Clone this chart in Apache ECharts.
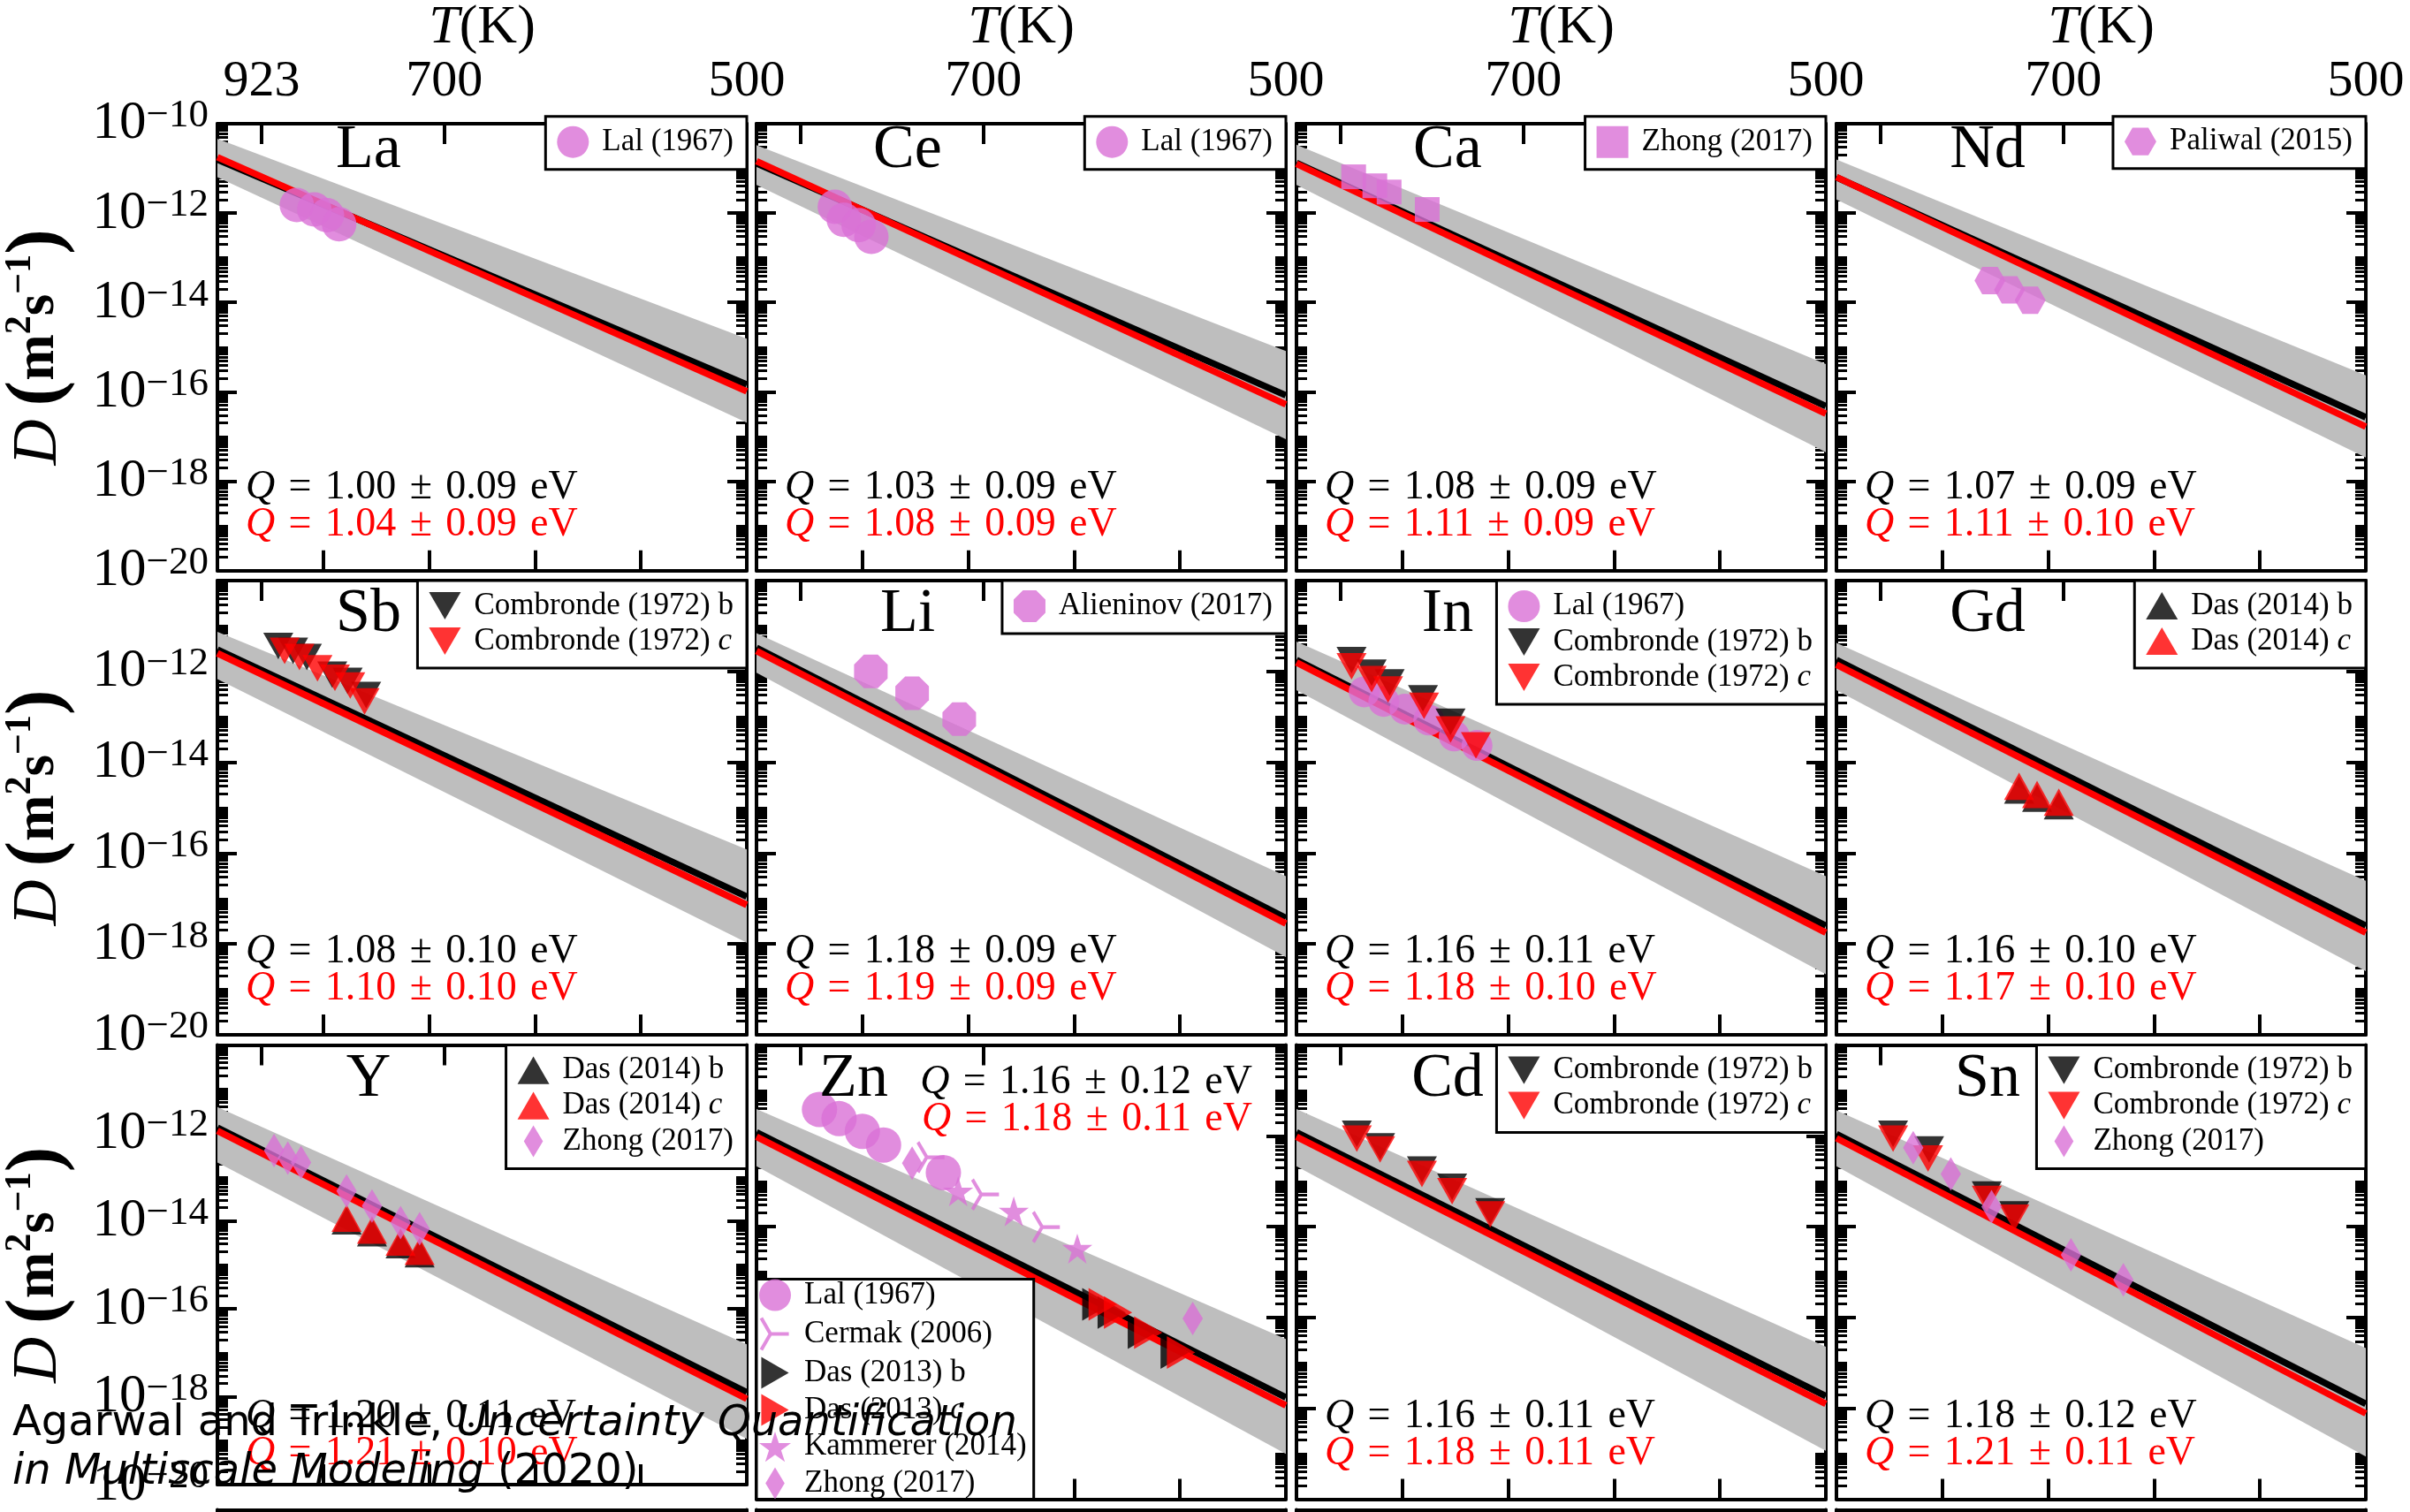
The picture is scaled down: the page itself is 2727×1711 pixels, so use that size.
<!DOCTYPE html>
<html><head><meta charset="utf-8">
<script src="https://cdn.jsdelivr.net/npm/echarts@6/dist/echarts.min.js"></script>
<style>html,body{margin:0;padding:0;background:#fff}#c{width:2727px;height:1711px}</style>
</head><body><div id="c"></div><script>
// ---------------- data ----------------
const elements = ['La','Ce','Ca','Nd','Sb','Li','In','Gd','Y','Zn','Cd','Sn'];
const qBlack = ['1.00 ± 0.09','1.03 ± 0.09','1.08 ± 0.09','1.07 ± 0.09','1.08 ± 0.10','1.18 ± 0.09','1.16 ± 0.11','1.16 ± 0.10','1.20 ± 0.11','1.16 ± 0.12','1.16 ± 0.11','1.18 ± 0.12'];
const qRed   = ['1.04 ± 0.09','1.08 ± 0.09','1.11 ± 0.09','1.11 ± 0.10','1.10 ± 0.10','1.19 ± 0.09','1.18 ± 0.10','1.17 ± 0.10','1.21 ± 0.10','1.18 ± 0.11','1.18 ± 0.11','1.21 ± 0.11'];
const topTemps = [923, 700, 500];          // top axis tick labels, T (K)
const xEnds = [1.0, 2.0];                   // 1000/T at the panel edges
// line end values D(m^2/s) at xEnds
const blackLine = [[1.58e-11,1.45e-16],[1.29e-11,8.32e-17],[1.32e-11,4.79e-17],[6.31e-12,2.69e-17],
                   [3.02e-12,1.10e-17],[3.31e-12,3.72e-18],[1.78e-12,2.51e-18],[1.78e-12,2.51e-18],
                   [1.32e-12,1.26e-18],[1.20e-12,1.74e-18],[1.20e-12,1.86e-18],[1.10e-12,1.26e-18]];
const redLine   = [[1.78e-11,1.02e-16],[1.45e-11,5.25e-17],[1.26e-11,3.24e-17],[6.40e-12,1.66e-17],
                   [2.51e-12,7.24e-18],[2.82e-12,2.82e-18],[1.58e-12,1.78e-18],[1.41e-12,1.78e-18],
                   [1.12e-12,8.91e-19],[9.55e-13,1.17e-18],[9.55e-13,1.26e-18],[8.91e-13,7.76e-19]];
const bandUpper = [[4.57e-11,1.55e-15],[3.31e-11,8.13e-16],[3.39e-11,4.17e-16],[1.58e-11,2.34e-16],
                   [7.41e-12,1.20e-16],[6.92e-12,3.09e-17],[4.57e-12,3.09e-17],[4.27e-12,2.45e-17],
                   [3.89e-12,1.55e-17],[3.89e-12,3.39e-17],[3.89e-12,2.29e-17],[3.63e-12,2.14e-17]];
const bandLower = [[6.31e-12,2.04e-17],[4.27e-12,8.71e-18],[4.27e-12,4.47e-18],[2.00e-12,3.39e-18],
                   [6.76e-13,1.07e-18],[9.33e-13,5.13e-19],[3.89e-13,2.14e-19],[3.89e-13,2.51e-19],
                   [2.14e-13,1.10e-19],[2.14e-13,1.00e-19],[2.14e-13,1.17e-19],[2.14e-13,8.71e-20]];
// experimental points [1000/T, D]
const laLal = [[1.150,1.51e-12],[1.183,1.20e-12],[1.207,8.91e-13],[1.230,5.62e-13]];
const ceLal = [[1.148,1.38e-12],[1.165,7.08e-13],[1.193,5.37e-13],[1.217,2.95e-13]];
const caZhong = [[1.108,6.46e-12],[1.148,4.07e-12],[1.175,2.95e-12],[1.247,1.20e-12]];
const ndPaliwal = [[1.290,3.09e-14],[1.327,1.91e-14],[1.366,1.12e-14]];
const sbCombB = [[1.115,3.63e-12],[1.143,2.85e-12],[1.169,2.07e-12],[1.217,8.51e-13],[1.246,6.17e-13],[1.281,3.02e-13]];
const sbCombC = [[1.127,2.85e-12],[1.155,2.07e-12],[1.189,1.17e-12],[1.222,7.24e-13],[1.251,4.90e-13],[1.278,2.19e-13]];
const liAlieninov = [[1.216,1.00e-12],[1.294,3.31e-13],[1.383,8.91e-14]];
const inLal = [[1.128,3.55e-13],[1.165,2.19e-13],[1.205,1.48e-13],[1.250,8.51e-14],[1.298,3.80e-14],[1.341,2.34e-14]];
const inCombB = [[1.104,1.78e-12],[1.142,9.33e-13],[1.176,5.75e-13],[1.239,2.57e-13],[1.291,7.76e-14]];
const inCombC = [[1.104,1.29e-12],[1.142,6.76e-13],[1.173,3.98e-13],[1.241,1.74e-13],[1.291,5.25e-14],[1.339,2.34e-14]];
const gdDasB = [[1.345,2.45e-15],[1.379,1.62e-15],[1.420,1.10e-15]];
const gdDasC = [[1.345,2.95e-15],[1.379,1.95e-15],[1.420,1.32e-15]];
const yDasB = [[1.244,1.00e-14],[1.292,5.37e-15],[1.346,2.88e-15],[1.382,1.78e-15]];
const yDasC = [[1.244,1.15e-14],[1.292,6.17e-15],[1.346,3.31e-15],[1.382,2.04e-15]];
const yZhong = [[1.107,3.98e-13],[1.133,2.69e-13],[1.158,2.14e-13],[1.244,4.79e-14],[1.292,2.19e-14],[1.346,9.12e-15],[1.382,6.61e-15]];
const znLal = [[1.119,3.80e-12],[1.156,2.40e-12],[1.200,1.26e-12],[1.240,6.31e-13],[1.353,1.55e-13]];
const znCermak = [[1.330,3.39e-13],[1.433,5.13e-14],[1.548,9.86e-15]];
const znDasB = [[1.642,1.95e-16],[1.671,1.30e-16],[1.728,4.68e-17],[1.790,1.70e-17]];
const znDasC = [[1.654,1.95e-16],[1.683,1.30e-16],[1.740,4.68e-17],[1.802,1.70e-17]];
const znKammerer = [[1.381,6.03e-14],[1.486,2.19e-14],[1.606,3.31e-15]];
const znZhong = [[1.294,2.51e-13],[1.824,9.55e-17]];
const cdCombB = [[1.114,1.11e-12],[1.158,5.89e-13],[1.237,1.82e-13],[1.294,7.59e-14],[1.366,2.19e-14]];
const cdCombC = [[1.114,8.71e-13],[1.158,5.01e-13],[1.237,1.45e-13],[1.294,6.03e-14],[1.366,1.86e-14]];
const snCombB = [[1.107,1.11e-12],[1.175,5.01e-13],[1.284,5.13e-14],[1.336,1.86e-14]];
const snCombC = [[1.107,8.71e-13],[1.173,3.16e-13],[1.284,4.07e-14],[1.336,1.58e-14]];
const snZhong = [[1.145,5.50e-13],[1.216,1.45e-13],[1.293,2.75e-14],[1.443,2.40e-15],[1.542,6.76e-16]];

// ---------------- styling / layout ----------------
const W = 2727, H = 1711;
const colLeft = [246, 856, 1467, 2078];
const rowTop = [131.7, 657, 1182.6, 1708.4];
const PW = 599, PH = 514;
const PINK = '#da70d6', RED = '#ff0000', BLACK = '#000000', GRAY = '#bebebe';
const SERIF = '"Liberation Serif","Times New Roman",serif';
const SANS = '"DejaVu Sans",sans-serif';
const SYM = {
  circle: 'circle', square: 'rect',
  triDown: 'path://M0,0L2,0L1,1.732Z',
  triUp: 'path://M1,0L2,1.732L0,1.732Z',
  triRight: 'path://M0,0L1.732,1L0,2Z',
  hexagon: 'path://M0.5,0L1.5,0L2,0.866L1.5,1.732L0.5,1.732L0,0.866Z',
  octagon: 'path://M0.293,0L0.707,0L1,0.293L1,0.707L0.707,1L0.293,1L0,0.707L0,0.293Z',
  diamond: 'path://M0.3,0L0.6,0.5L0.3,1L0,0.5Z',
  star: 'path://M1,0L1.2245,0.691L1.951,0.691L1.363,1.118L1.588,1.809L1,1.382L0.412,1.809L0.637,1.118L0.049,0.691L0.7755,0.691Z',
  tri: 'path://M1,1L2,1M1,1L0.5,0.134M1,1L0.5,1.866'
};
const markers = [
  {p:0, name:'Lal (1967)', sym:'circle', size:39, color:PINK, data:laLal},
  {p:1, name:'Lal (1967)', sym:'circle', size:39, color:PINK, data:ceLal},
  {p:2, name:'Zhong (2017)', sym:'square', size:28, color:PINK, data:caZhong},
  {p:3, name:'Paliwal (2015)', sym:'hexagon', size:[35,31], color:PINK, data:ndPaliwal},
  {p:4, name:'Combronde (1972) b', sym:'triDown', size:[34,30], color:BLACK, data:sbCombB},
  {p:4, name:'Combronde (1972) c', sym:'triDown', size:[34,30], color:RED, data:sbCombC},
  {p:5, name:'Alieninov (2017)', sym:'octagon', size:38, color:PINK, data:liAlieninov},
  {p:6, name:'Lal (1967)', sym:'circle', size:35, color:PINK, data:inLal},
  {p:6, name:'Combronde (1972) b', sym:'triDown', size:[34,30], color:BLACK, data:inCombB},
  {p:6, name:'Combronde (1972) c', sym:'triDown', size:[34,30], color:RED, data:inCombC},
  {p:7, name:'Das (2014) b', sym:'triUp', size:[34,31], color:BLACK, data:gdDasB},
  {p:7, name:'Das (2014) c', sym:'triUp', size:[34,31], color:RED, data:gdDasC},
  {p:8, name:'Das (2014) b', sym:'triUp', size:[34,31], color:BLACK, data:yDasB},
  {p:8, name:'Das (2014) c', sym:'triUp', size:[34,31], color:RED, data:yDasC},
  {p:8, name:'Zhong (2017)', sym:'diamond', size:[23,38], color:PINK, data:yZhong},
  {p:9, name:'Lal (1967)', sym:'circle', size:40, color:PINK, data:znLal},
  {p:9, name:'Cermak (2006)', sym:'tri', size:[30,34], color:PINK, data:znCermak, stroke:true},
  {p:9, name:'Das (2013) b', sym:'triRight', size:[32,37], color:BLACK, data:znDasB},
  {p:9, name:'Das (2013) c', sym:'triRight', size:[32,37], color:RED, data:znDasC},
  {p:9, name:'Kammerer (2014)', sym:'star', size:34, color:PINK, data:znKammerer},
  {p:9, name:'Zhong (2017)', sym:'diamond', size:[23,38], color:PINK, data:znZhong},
  {p:10, name:'Combronde (1972) b', sym:'triDown', size:[34,30], color:BLACK, data:cdCombB},
  {p:10, name:'Combronde (1972) c', sym:'triDown', size:[34,30], color:RED, data:cdCombC},
  {p:11, name:'Combronde (1972) b', sym:'triDown', size:[34,30], color:BLACK, data:snCombB},
  {p:11, name:'Combronde (1972) c', sym:'triDown', size:[34,30], color:RED, data:snCombC},
  {p:11, name:'Zhong (2017)', sym:'diamond', size:[23,38], color:PINK, data:snZhong}
];

const yMajorTicks = [1e-20, 1e-18, 1e-16, 1e-14, 1e-12, 1e-10];
const yMinorTicks = [];
for (let e = -20; e < -10; e++) for (let k = 1; k < 10; k++) {
  if (k === 1 && e % 2 === 0) continue;
  yMinorTicks.push(k * Math.pow(10, e));
}
const topTickPos = topTemps.slice(0, 2).map(t => 1000 / t);

const option = { animation:false, backgroundColor:'#fff', grid:[], xAxis:[], yAxis:[], series:[], legend:[] };

function yLabelFmt(v) {
  const e = Math.round(Math.log10(v));
  return '{b|10}{s|\u2212' + (-e) + '}';
}
const yLabelRich = {
  b: {fontFamily:SERIF, fontSize:61, lineHeight:62, verticalAlign:'bottom', color:'#000'},
  s: {fontFamily:SERIF, fontSize:45, lineHeight:30, verticalAlign:'top', color:'#000'}
};

for (let p = 0; p < 16; p++) {
  const r = Math.floor(p / 4), c = p % 4;
  option.grid.push({left: colLeft[c], top: rowTop[r], width: PW, height: PH, show:false});
  // bottom x
  option.xAxis.push({type:'value', gridIndex:p, position:'bottom', min:1, max:2, interval:0.2,
    axisLine:{onZero:false, lineStyle:{color:'#000', width:4}},
    axisTick:{inside:true, length:23, lineStyle:{color:'#000', width:4}},
    axisLabel:{show:false}, splitLine:{show:false}});
  // top x (temperature)
  const topLabels = c === 0 ? topTemps : topTemps.slice(1);
  option.xAxis.push({type:'value', gridIndex:p, position:'top', min:1, max:2,
    axisLine:{onZero:false, lineStyle:{color:'#000', width:4}},
    axisTick:{inside:true, length:23, lineStyle:{color:'#000', width:4}, customValues: topTickPos},
    axisLabel:{show: r === 0, customValues: topLabels.map(t => 1000 / t), margin:18,
      formatter: v => String(Math.round(1000 / v)), fontFamily:SERIF, fontSize:58, color:'#000'},
    splitLine:{show:false},
    name: r === 0 ? '{i|T}(K)' : '', nameLocation:'middle', nameGap:64,
    nameTextStyle:{fontFamily:SERIF, fontSize:62, color:'#000',
      rich:{i:{fontFamily:SERIF, fontSize:62, fontStyle:'italic', color:'#000'}}}});
  const labelVals = r === 0 ? yMajorTicks : yMajorTicks.slice(0, 5);
  for (const side of ['left', 'right']) {
    option.yAxis.push({type:'log', logBase:10, gridIndex:p, position:side, min:1e-20, max:1e-10,
      axisLine:{onZero:false, lineStyle:{color:'#000', width:4}},
      axisTick:{inside:true, length:22, lineStyle:{color:'#000', width:4}, customValues: yMajorTicks},
      axisLabel:{show: side === 'left' && c === 0, customValues: labelVals, margin:10,
        formatter: yLabelFmt, rich: yLabelRich},
      splitLine:{show:false}, minorTick:{show:false},
      name: (side === 'left' && c === 0 && r < 3) ? '{d|D} {p|(}{m|m}{u|2}{m|s}{u|\u22121}{p|)}' : '',
      nameLocation:'middle', nameRotate:90, nameGap:160,
      nameTextStyle:{fontFamily:SERIF, fontSize:60, color:'#000', rich:{
        d:{fontFamily:SERIF, fontSize:72, fontStyle:'italic', lineHeight:84, color:'#000'},
        p:{fontFamily:SERIF, fontSize:86, fontWeight:'bold', lineHeight:84, color:'#000'},
        m:{fontFamily:SERIF, fontSize:63, fontWeight:'bold', lineHeight:84, color:'#000'},
        u:{fontFamily:SERIF, fontSize:42, fontWeight:'bold', lineHeight:44, verticalAlign:'top', color:'#000'}}}});
    option.yAxis.push({type:'log', logBase:10, gridIndex:p, position:side, min:1e-20, max:1e-10,
      axisLine:{show:false},
      axisTick:{inside:true, length:12, lineStyle:{color:'#000', width:3}, customValues: yMinorTicks},
      axisLabel:{show:false}, splitLine:{show:false}});
  }
  if (p >= 12) continue;
  const xi = 2 * p, yi = 4 * p;
  option.series.push({type:'custom', xAxisIndex:xi, yAxisIndex:yi, silent:true, z:1,
    data:[[xEnds[0], bandUpper[p][0], bandLower[p][0], xEnds[1], bandUpper[p][1], bandLower[p][1]]],
    encode:{x:[0,3], y:[1,2,4,5]},
    renderItem:(params, api) => {
      const a = api.coord([api.value(0), api.value(1)]);
      const b = api.coord([api.value(3), api.value(4)]);
      const cc = api.coord([api.value(3), api.value(5)]);
      const d = api.coord([api.value(0), api.value(2)]);
      return {type:'polygon', shape:{points:[a, b, cc, d]}, style:{fill:GRAY}};
    }});
  option.series.push({type:'line', xAxisIndex:xi, yAxisIndex:yi, silent:true, z:2, symbol:'none',
    data:[[xEnds[0], blackLine[p][0]], [xEnds[1], blackLine[p][1]]], lineStyle:{color:BLACK, width:7.5}});
  option.series.push({type:'line', xAxisIndex:xi, yAxisIndex:yi, silent:true, z:2, symbol:'none',
    data:[[xEnds[0], redLine[p][0]], [xEnds[1], redLine[p][1]]], lineStyle:{color:RED, width:7.5}});
}
for (const m of markers) {
  option.series.push({type:'scatter', name:m.name, xAxisIndex:2*m.p, yAxisIndex:4*m.p, z:3, silent:true,
    data:m.data, symbol:SYM[m.sym], symbolSize:m.size,
    itemStyle: m.stroke ? {color:'rgba(0,0,0,0)', borderColor:m.color, borderWidth:4} : {color:m.color}});
}

// legends
const legendNames = [
  ['Lal (1967)'], ['Lal (1967)'], ['Zhong (2017)'], ['Paliwal (2015)'],
  ['Combronde (1972) b','Combronde (1972) c'], ['Alieninov (2017)'],
  ['Lal (1967)','Combronde (1972) b','Combronde (1972) c'], ['Das (2014) b','Das (2014) c'],
  ['Das (2014) b','Das (2014) c','Zhong (2017)'],
  ['Lal (1967)','Cermak (2006)','Das (2013) b','Das (2013) c','Kammerer (2014)','Zhong (2017)'],
  ['Combronde (1972) b','Combronde (1972) c'], ['Combronde (1972) b','Combronde (1972) c','Zhong (2017)']
];
for (let p = 0; p < 12; p++) {
  const r = Math.floor(p / 4), c = p % 4;
  const isZn = elements[p] === 'Zn';
  const pos = isZn ? {left: colLeft[c], bottom: H - (rowTop[r] + PH), padding:[0, 8, 0, 3], itemGap:6}
                   : {right: W - (colLeft[c] + PW), top: rowTop[r], padding:[11, 15, 13, 13], itemGap:5};
  option.legend.push(Object.assign({
    selectedMode:false, orient:'vertical', itemWidth:36, itemHeight:36, z:10,
    backgroundColor:'#fff', borderColor:'#000', borderWidth:3, borderRadius:0,
    textStyle:{fontFamily:SERIF, fontSize:35, color:'#000', padding:[0,0,0,10],
      rich:{i:{fontFamily:SERIF, fontSize:35, fontStyle:'italic', color:'#000'}}},
    formatter: n => / c$/.test(n) ? n.slice(0, -1) + '{i|c}' : n,
    data: legendNames[p].map(n => {
      const m = markers.find(k => k.p === p && k.name === n);
      const item = {name:n, icon:SYM[m.sym]};
      if (m.stroke) item.itemStyle = {color:'rgba(0,0,0,0)', borderColor:m.color, borderWidth:4};
      else item.itemStyle = {color:m.color, borderWidth:0};
      return item;
    })
  }, pos));
}

// texts
const graphics = [];
const SP = '\u2004';
function qText(val, x, y, color, align) {
  return {type:'text', x, y, z:50, silent:true, style:{
    text:'{q|Q}' + SP + '=' + SP + val.replace(' ± ', SP + '±' + SP) + SP + 'eV',
    fontFamily:SERIF, fontSize:46, fill:color, align, verticalAlign:'middle',
    rich:{q:{fontFamily:SERIF, fontSize:46, fontStyle:'italic', fill:color}}}};
}
for (let p = 0; p < 12; p++) {
  const r = Math.floor(p / 4), c = p % 4;
  const L = colLeft[c], T = rowTop[r];
  const isZn = elements[p] === 'Zn';
  graphics.push({type:'text', x: L + (isZn ? 110 : 171), y: T + 39, z:50, silent:true,
    style:{text:elements[p], fontFamily:SERIF, fontSize:70, fill:'#000', align:'center', verticalAlign:'middle'}});
  const qx = isZn ? L + PW - 38 : L + 32;
  const al = isZn ? 'right' : 'left';
  graphics.push(qText(qBlack[p], qx, isZn ? T + 42.5 : T + 420, BLACK, al));
  graphics.push(qText(qRed[p], qx, isZn ? T + 84.5 : T + 462, RED, al));
}
const wmRich = {n:{fontFamily:SANS, fontSize:48, fill:'#000'}, it:{fontFamily:SANS, fontSize:48, fontStyle:'italic', fill:'#000'}};
graphics.push({type:'text', x:14, y:1612, z:100, silent:true, style:{text:'{n|Agarwal and Trinkle, }{it|Uncertainty Quantification}', rich:wmRich, verticalAlign:'middle', align:'left'}});
graphics.push({type:'text', x:14, y:1667, z:100, silent:true, style:{text:'{it|in Multiscale Modeling}{n| (2020)}', rich:wmRich, verticalAlign:'middle', align:'left'}});
option.graphic = {elements: graphics};

const chart = echarts.init(document.getElementById('c'), null, {renderer:'canvas', width:W, height:H});
chart.setOption(option);
</script></body></html>
